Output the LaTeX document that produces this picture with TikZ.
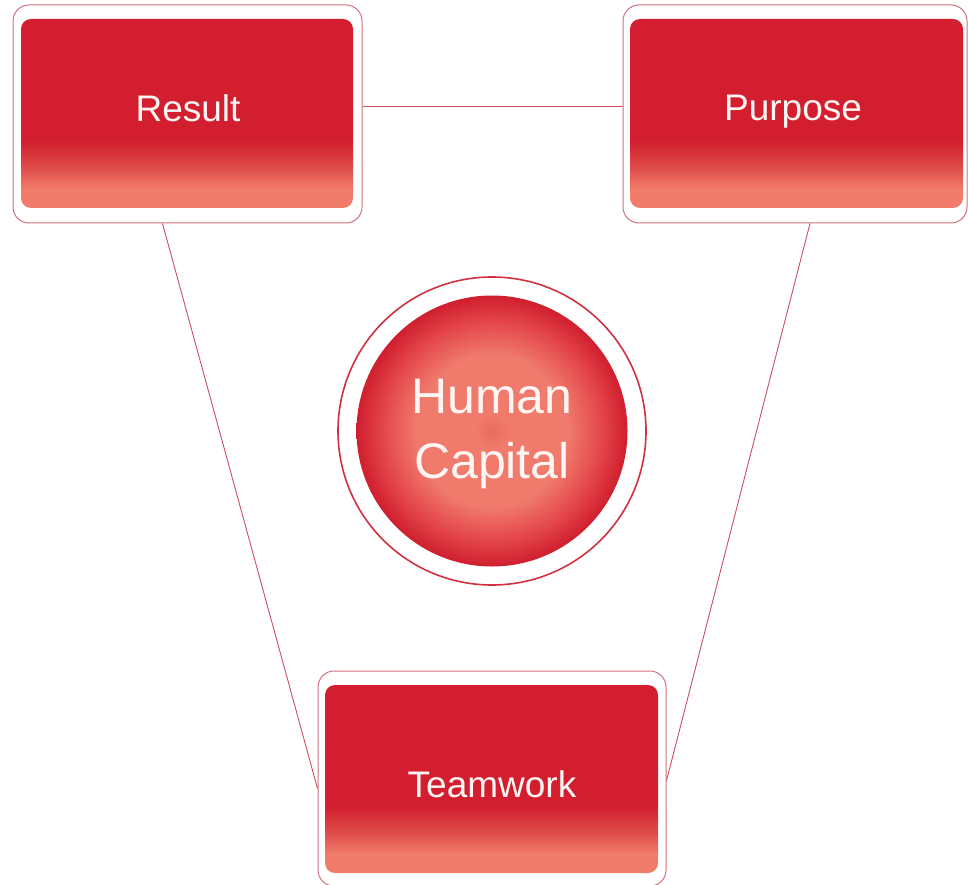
\documentclass[tikz,border=0pt]{standalone}
\usepackage{fontspec}
\setmainfont{Liberation Sans}
\definecolor{boxred}{HTML}{D21E2E}
\definecolor{boxmid}{HTML}{DD4A48}
\definecolor{boxsalmon}{HTML}{F27C6B}
\definecolor{framecol}{HTML}{D0707E}
\definecolor{linecol}{HTML}{C8505F}
\definecolor{ringcol}{HTML}{D03040}
\definecolor{ballC}{HTML}{E96B5C}
\definecolor{ballS}{HTML}{F07A6C}
\definecolor{ballM}{HTML}{E4484C}
\definecolor{ballR}{HTML}{D01E2E}
\definecolor{txtcol}{HTML}{FFF6F3}
\pgfdeclareverticalshading{boxshade}{100bp}{color(0bp)=(boxsalmon); color(30bp)=(boxsalmon); color(36bp)=(boxmid); color(43bp)=(boxred); color(100bp)=(boxred)}
\pgfdeclareradialshading{ballshade}{\pgfpoint{0bp}{0bp}}{color(0bp)=(ballC); color(3bp)=(ballS); color(14bp)=(ballS); color(20bp)=(ballM); color(25bp)=(ballR); color(50bp)=(ballR)}
\begin{document}
\begin{tikzpicture}[x=1pt,y=-1pt,
  frame/.style={draw=framecol, line width=1pt, rounded corners=16pt, rectangle, inner sep=0pt},
  inbox/.style={rectangle, rounded corners=10pt, shading=boxshade, inner sep=0pt, minimum width=332pt, minimum height=189pt},
  lbl/.style={text=txtcol, font=\fontsize{37}{42}\selectfont, inner sep=0pt, anchor=base},
  conn/.style={draw=linecol, line width=0.9pt}]
\useasboundingbox (0,0) rectangle (968,885);
% frames
\node[frame, minimum width=349pt, minimum height=218pt] (res) at (187.5,114) {};
\node[frame, minimum width=344pt, minimum height=218pt] (pur) at (795,114) {};
\node[frame, minimum width=348pt, minimum height=215pt] (team) at (492,778.5) {};
% inner boxes
\node[inbox] (resIn) at (187,113.5) {};
\node[inbox, minimum width=333pt] (purIn) at (796.5,113.5) {};
\node[inbox, minimum width=333pt, minimum height=188pt] (teamIn) at (491.5,779) {};
% labels
\node[lbl] (resT) at (188,122) {Result};
\node[lbl] (purT) at (793,121) {Purpose};
\node[lbl] (teamT) at (492,797) {Teamwork};
% circle
\node[circle, draw=ringcol, line width=1.6pt, minimum size=308pt, inner sep=0pt] (ring) at (492,431) {};
\node[circle, shading=ballshade, minimum size=271pt, inner sep=0pt] (ball) at (492,431) {};
\node[text=txtcol, font=\fontsize{50}{65}\selectfont, align=center, inner sep=0pt] (hc) at (492,434) {Human\\Capital};
% connectors
\draw[conn] ([yshift=8pt]res.east) -- ([yshift=8pt]pur.west);
\draw[conn] ([xshift=-25pt]res.south) -- ([yshift=-10pt]team.west);
\draw[conn] ([xshift=15pt]pur.south) -- ([yshift=-2pt]team.east);
\end{tikzpicture}
\end{document}
